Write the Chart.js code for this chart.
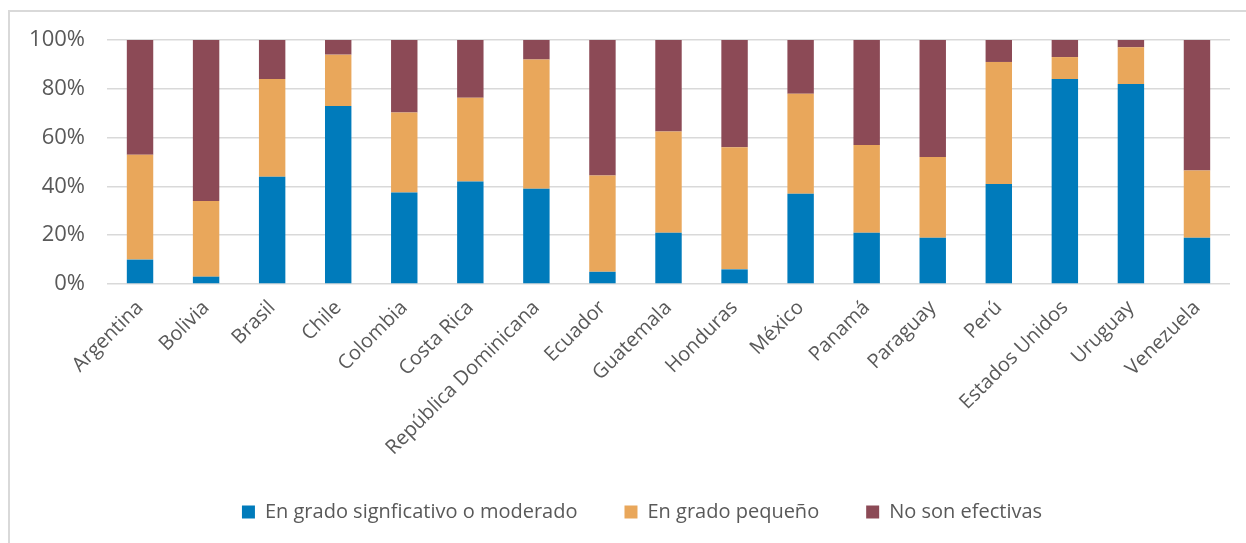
<!DOCTYPE html>
<html>
<head>
<meta charset="utf-8">
<script src="https://cdn.jsdelivr.net/npm/chart.js@4.4.1/dist/chart.umd.min.js"></script>
<style>
    html, body { margin: 0; padding: 0; background: #fff; }
    #frame {
        position: absolute; left: 8px; top: 10px;
        width: 1238px; height: 533px;
        border-top: 2px solid #d9d9d9; border-left: 2px solid #d9d9d9;
        box-sizing: border-box;
    }
    #wrap { position: absolute; left: 0; top: 0; width: 1236px; height: 531px; }
</style>
</head>
<body>
<div id="frame"><div id="wrap"><canvas id="eficacia"></canvas></div></div>
<script>
const paises = ['Argentina', 'Bolivia', 'Brasil', 'Chile', 'Colombia', 'Costa Rica', 'República Dominicana',
    'Ecuador', 'Guatemala', 'Honduras', 'México', 'Panamá', 'Paraguay', 'Perú', 'Estados Unidos', 'Uruguay', 'Venezuela'];

// porcentajes por país (cada columna suma 100)
const significativo = [10, 3, 44, 73, 37.5, 42, 39, 5, 21, 6, 37, 21, 19, 41, 84, 82, 19];
const pequeno = [43, 31, 40, 21, 32.8, 34.3, 53, 39.5, 41.5, 50, 41, 36, 33, 50, 9, 15, 27.5];
const noEfectivas = [47, 66, 16, 6, 29.7, 23.7, 8, 55.5, 37.5, 44, 22, 43, 48, 9, 7, 3, 53.5];

const yTicks = [0, 20, 40, 60, 80, 100];

const fuente = '"Open Sans", sans-serif';
const gris = '#595959';

Chart.defaults.font.family = fuente;
Chart.defaults.color = gris;

// la leyenda de Excel queda centrada un poco más a la derecha
const moverLeyenda = {
    id: 'moverLeyenda',
    afterLayout(chart) {
        chart.legend.left += 22;
        chart.legend.right += 22;
    },
};

const ctx = document.getElementById('eficacia').getContext('2d');

new Chart(ctx, {
    type: 'bar',
    data: {
        labels: paises,
        datasets: [
            { label: 'En grado signficativo o moderado', data: significativo, backgroundColor: '#007BBB' },
            { label: 'En grado pequeño', data: pequeno, backgroundColor: '#E9A75B' },
            { label: 'No son efectivas', data: noEfectivas, backgroundColor: '#8C4A56' },
        ],
    },
    plugins: [moverLeyenda],
    options: {
        responsive: true,
        maintainAspectRatio: false,
        animation: false,
        layout: { padding: { top: 28, right: 16, left: 0, bottom: 11 } },
        datasets: { bar: { barPercentage: 0.4, categoryPercentage: 1.0 } },
        plugins: {
            tooltip: { enabled: false },
            legend: {
                position: 'bottom',
                labels: {
                    boxWidth: 13,
                    boxHeight: 13,
                    padding: 47,
                    color: gris,
                    font: { size: 20 },
                },
            },
        },
        scales: {
            x: {
                stacked: true,
                grid: { display: false },
                border: { display: false },
                ticks: {
                    minRotation: 45,
                    maxRotation: 45,
                    padding: 4,
                    color: gris,
                    font: { size: 20 },
                },
                afterFit: (scale) => { scale.height = 171; },
            },
            y: {
                stacked: true,
                min: 0,
                max: 100,
                afterBuildTicks: (scale) => { scale.ticks = yTicks.map(v => ({ value: v })); },
                grid: {
                    color: '#d9d9d9',
                    lineWidth: 1.5,
                    drawTicks: true,
                    tickLength: 22,
                    tickColor: 'rgba(0,0,0,0)',
                },
                border: { display: false },
                ticks: {
                    padding: 0,
                    color: gris,
                    font: { size: 22 },
                    callback: (v) => v + '%',
                },
                afterFit: (scale) => { scale.width = 97; },
            },
        },
    },
});
</script>
</body>
</html>
